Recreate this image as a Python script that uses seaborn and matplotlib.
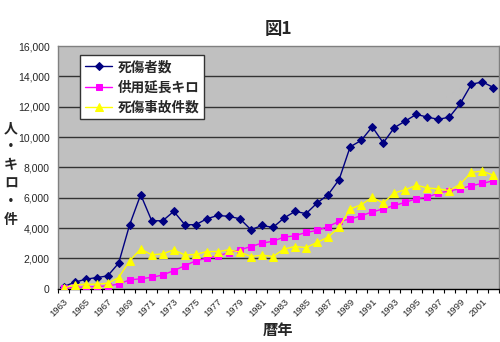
import matplotlib
matplotlib.use("Agg")
import matplotlib.pyplot as plt
import seaborn as sns
import pandas as pd
import numpy as np

years = list(range(1963, 2003))

casualties = [130, 420, 620, 730, 840, 1680, 4220, 6200, 4480, 4480,
              5100, 4220, 4220, 4610, 4830, 4770, 4610, 3890, 4170, 4040,
              4660, 5100, 4950, 5650, 6200, 7200, 9360, 9780, 10680, 9620,
              10620, 11060, 11500, 11320, 11170, 11320, 12230, 13490, 13640, 13270]

route_km = [30, 80, 110, 140, 180, 300, 580, 650, 750, 900,
            1190, 1510, 1840, 2010, 2160, 2380, 2560, 2780, 3000, 3130,
            3400, 3490, 3710, 3840, 4100, 4440, 4590, 4810, 5060, 5260,
            5490, 5690, 5940, 6030, 6310, 6450, 6590, 6800, 6940, 7130]

accidents = [30, 240, 290, 290, 360, 730, 1840, 2620, 2230, 2300,
             2560, 2220, 2260, 2450, 2450, 2560, 2410, 2120, 2210, 2120,
             2610, 2780, 2710, 3050, 3400, 4060, 5260, 5540, 6020, 5650,
             6310, 6530, 6820, 6650, 6580, 6470, 6910, 7680, 7750, 7480]

series_names = ["死傷者数", "供用延長キロ", "死傷事故件数"]
y_ticks = list(range(0, 16001, 2000))

sns.set_theme(style="white")
jp = ["Noto Sans CJK JP", "DejaVu Sans"]
num_font = ["Liberation Sans", "DejaVu Sans"]
plt.rcParams["font.family"] = jp

df = pd.DataFrame({
    "pos": np.arange(len(years)),
    series_names[0]: casualties,
    series_names[1]: route_km,
    series_names[2]: accidents,
})

fig = plt.figure(figsize=(5.0, 3.42), dpi=100)
ax = fig.add_axes([0.116, 0.156, 0.882, 0.709])
ax.set_facecolor("#C0C0C0")

styles = [
    (series_names[0], "#000080", "D", 3.6),
    (series_names[1], "#FF00FF", "s", 5.0),
    (series_names[2], "#FFFF00", "^", 5.8),
]
for name, color, marker, ms in styles:
    sns.lineplot(data=df, x="pos", y=name, ax=ax, color=color, marker=marker,
                 markersize=ms, markeredgecolor=color, linewidth=1.0,
                 label=name, zorder=3)

ax.set_xlim(-0.5, len(years) - 0.5)
ax.set_ylim(0, 16000)

# horizontal gridlines
for v in y_ticks[1:-1]:
    ax.axhline(v, color="#333333", linewidth=1.0, zorder=1)

ax.set_yticks(y_ticks)
ax.set_yticklabels([f"{v:,}" for v in y_ticks], fontfamily=num_font, fontsize=7.5)
ax.tick_params(axis="y", length=0, pad=6)

label_pos = np.arange(0, len(years), 2)
ax.set_xticks(label_pos)
ax.set_xticklabels([str(years[i]) for i in label_pos], rotation=45, ha="right",
                   rotation_mode="anchor", fontfamily=num_font, fontsize=6.8)
ax.set_xticks(np.arange(-0.5, len(years), 1.0), minor=True)
ax.tick_params(axis="x", which="major", length=0, pad=6)
ax.tick_params(axis="x", which="minor", length=3, width=0.8, color="black",
               direction="out", bottom=True)

for side in ["left", "top", "right"]:
    ax.spines[side].set_color("#808080")
    ax.spines[side].set_linewidth(1.0)
ax.spines["bottom"].set_color("black")
ax.spines["bottom"].set_linewidth(1.0)

ax.set_xlabel("")
ax.set_ylabel("")
ax.set_title("図1", fontsize=12.5, fontweight="bold", pad=9)

fig.text(0.556, 0.035, "暦年", ha="center", va="center", fontsize=11, fontweight="bold")
fig.text(0.022, 0.49, "人\n・\nキ\nロ\n・\n件", ha="center", va="center",
         fontsize=10, fontweight="bold", linespacing=1.4)

leg = ax.legend(loc="upper left", bbox_to_anchor=(0.035, 0.99), frameon=True,
                fancybox=False, edgecolor="#333333", facecolor="white",
                framealpha=1.0, handlelength=2.0, numpoints=1,
                borderpad=0.35, labelspacing=0.45, handletextpad=0.4,
                prop={"family": jp, "size": 9.8, "weight": "bold"})
leg.get_frame().set_linewidth(1.0)

fig.savefig("out.png", dpi=100)
